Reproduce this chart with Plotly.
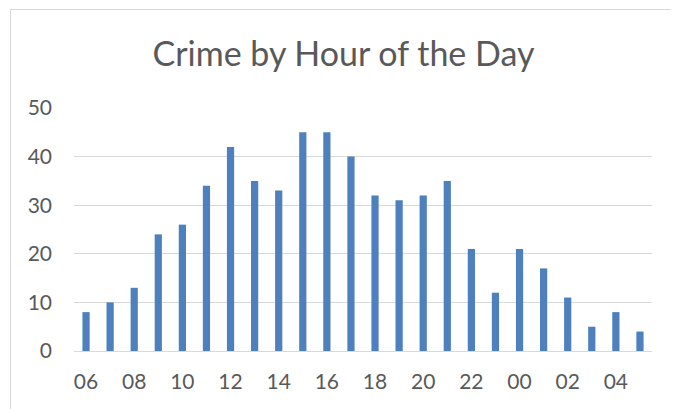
import plotly.graph_objects as go

hours = ["06", "07", "08", "09", "10", "11", "12", "13", "14", "15", "16", "17",
         "18", "19", "20", "21", "22", "23", "00", "01", "02", "03", "04", "05"]
crimes = [8, 10, 13, 24, 26, 34, 42, 35, 33, 45, 45, 40,
          32, 31, 32, 35, 21, 12, 21, 17, 11, 5, 8, 4]
tick_labels = hours[::2]
y_ticks = [0, 10, 20, 30, 40, 50]

# page body has an 8px margin, so the figure is sized/offset accordingly
OFF = 8
W, H = 679 - OFF, 409 - OFF
L, R, T, B = 74 - OFF, 27, 108 - OFF, 58
pw, ph = W - L - R, H - T - B

fig = go.Figure(go.Bar(x=hours, y=crimes, marker_color="#4e80bd",
                       marker_line_width=0))

def px_to_paper_x(px):
    return (px - OFF - L) / pw

def px_to_paper_y(py):
    return (H - B - (py - OFF)) / ph

frame = dict(color="#d9d9d9", width=1)
# left edge of the chart frame
fig.add_shape(type="line", xref="paper", yref="paper",
              x0=px_to_paper_x(10.5), x1=px_to_paper_x(10.5),
              y0=px_to_paper_y(409), y1=px_to_paper_y(9.5),
              line=frame, layer="below")
# top edge of the chart frame
fig.add_shape(type="line", xref="paper", yref="paper",
              x0=px_to_paper_x(10.5), x1=px_to_paper_x(679),
              y0=px_to_paper_y(9.5), y1=px_to_paper_y(9.5),
              line=frame, layer="below")

fig.update_layout(
    width=W, height=H,
    margin=dict(l=L, r=R, t=T, b=B),
    paper_bgcolor="white", plot_bgcolor="white",
    bargap=0.7,
    showlegend=False,
    font=dict(family="Lato", color="#595959", size=21),
    title=dict(text="Crime by Hour of the Day", x=((150 + 537) / 2 - OFF) / W,
               xanchor="center", y=1 - (54 - OFF) / H, yanchor="middle",
               font=dict(family="Lato", size=34, color="#595959")),
)
fig.update_xaxes(type="category", tickmode="array", tickvals=tick_labels,
                 ticktext=tick_labels, showgrid=False, showline=False,
                 ticks="", ticklabelstandoff=16)
fig.update_yaxes(range=[0, 50], tickvals=y_ticks, showgrid=True,
                 gridcolor="#d9d9d9", gridwidth=1, zeroline=True,
                 zerolinecolor="#d9d9d9", zerolinewidth=1, showline=False,
                 ticks="", ticklabelstandoff=21)

fig.write_html("out.html")
